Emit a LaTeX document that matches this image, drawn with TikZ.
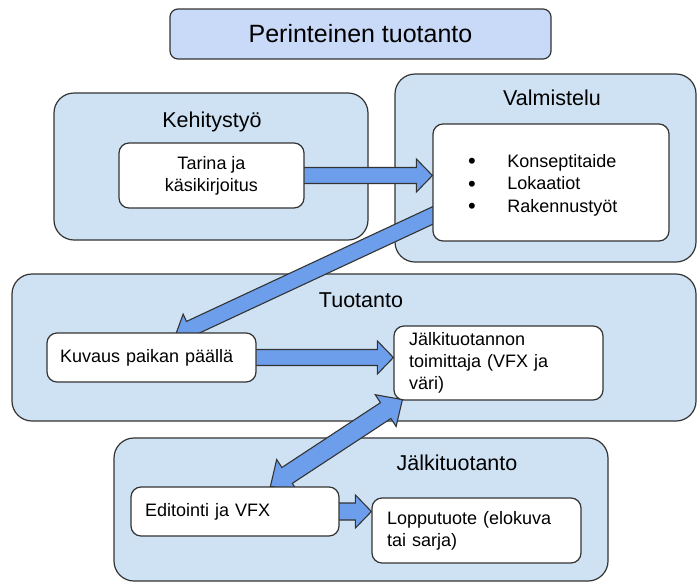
\documentclass[tikz,border=0pt]{standalone}
\usepackage{fontspec}
\setmainfont{Liberation Sans}
\usetikzlibrary{calc}
\definecolor{grpfill}{HTML}{CFE2F3}
\definecolor{titlefill}{HTML}{C9DAF8}
\definecolor{arrfill}{HTML}{6D9EEB}
\definecolor{edgecol}{HTML}{333333}
\pgfdeclarelayer{back}
\pgfdeclarelayer{mid}
\pgfsetlayers{back,mid,main}
\tikzset{
  grp/.style={draw=edgecol, line width=1.2pt, fill=grpfill, rounded corners=20pt, inner sep=0pt},
  titlebox/.style={draw=edgecol, line width=1.2pt, fill=titlefill, rounded corners=8pt, inner sep=0pt,
    font=\fontsize{25}{30}\selectfont},
  box/.style={draw=edgecol, line width=1.2pt, fill=white, rounded corners=10pt, inner ysep=2pt,
    font=\fontsize{18}{22}\selectfont},
  hdr/.style={inner sep=0pt, font=\fontsize{21.5}{26}\selectfont},
  arrowshape/.style={draw=edgecol, line width=1.1pt, fill=arrfill, line join=miter},
}
\newcommand\bigbul{\raisebox{-1.5pt}[0pt][0pt]{\fontsize{22}{22}\selectfont •}}
% single block arrow: start, tip, half shaft, half head, head length
\newcommand\fatarrow[5]{%
  \coordinate (fa-h) at ($(#2)!#5!(#1)$);
  \draw[arrowshape] ($(#1)!#3!90:(#2)$) -- ($(fa-h)!#3!90:(#2)$) -- ($(fa-h)!#4!90:(#2)$)
    -- (#2) -- ($(fa-h)!#4!-90:(#2)$) -- ($(fa-h)!#3!-90:(#2)$) -- ($(#1)!#3!-90:(#2)$) -- cycle;}
% double block arrow: end one, end two, half shaft, half head, head length
\newcommand\fatdarrow[5]{%
  \coordinate (fd-h1) at ($(#2)!#5!(#1)$);
  \coordinate (fd-h2) at ($(#1)!#5!(#2)$);
  \draw[arrowshape] (#1) -- ($(fd-h2)!#4!90:(#2)$) -- ($(fd-h2)!#3!90:(#2)$) -- ($(fd-h1)!#3!90:(#2)$)
    -- ($(fd-h1)!#4!90:(#2)$) -- (#2) -- ($(fd-h1)!#4!-90:(#2)$) -- ($(fd-h1)!#3!-90:(#2)$)
    -- ($(fd-h2)!#3!-90:(#2)$) -- ($(fd-h2)!#4!-90:(#2)$) -- cycle;}
\begin{document}
\begin{tikzpicture}[x=1pt, y=-1pt]
\useasboundingbox (0,0) rectangle (697,582);

% groups
\begin{pgfonlayer}{back}
\node[grp, minimum width=314pt, minimum height=147pt] (kehg) at (211,166.5) {};
\node[grp, minimum width=301pt, minimum height=188pt] (valmg) at (545.5,168) {};
\node[grp, minimum width=684pt, minimum height=147pt] (tuog) at (354,347.5) {};
\node[grp, minimum width=494pt, minimum height=143pt] (jalg) at (361,509.5) {};
\end{pgfonlayer}

% title
\node[titlebox, minimum width=381pt, minimum height=50pt] (title) at (360.5,34) {Perinteinen tuotanto};

% headers
\node[hdr, anchor=base] (kehlbl) at (212,127) {Kehitystyö};
\node[hdr, anchor=base] (valmlbl) at (552,105) {Valmistelu};
\node[hdr, anchor=base] (tuolbl) at (361,307) {Tuotanto};
\node[hdr, anchor=base] (jallbl) at (457,470) {Jälkituotanto};

% inner boxes
\node[box, minimum width=185pt, minimum height=65pt, align=center] (tarina) at (211.5,175.5)
  {Tarina ja\\käsikirjoitus};
\node[box, minimum width=236pt, minimum height=117pt] (valm) at (551,182.5) {};
\node[inner sep=0pt, anchor=base west, font=\fontsize{18}{22.5}\selectfont] (valmlist) at (468,167)
  {\begin{tabular}[t]{@{}l@{\hspace{31.5pt}}l@{}}\bigbul&Konseptitaide\\ \bigbul&Lokaatiot\\ \bigbul&Rakennustyöt\end{tabular}};
\node[box, minimum width=209pt, minimum height=49pt, text width=183pt, inner xsep=13pt, align=left]
  (kuvaus) at (151.5,357.5) {\mbox{Kuvaus paikan päällä}};
\node[box, minimum width=209pt, minimum height=74pt, text width=179pt, inner xsep=15pt, align=left]
  (jtoim) at (498.5,363) {Jälkituotannon\\toimittaja (VFX ja\\väri)};
\node[box, minimum width=208pt, minimum height=49pt, text width=180pt, inner xsep=14pt, align=left]
  (edit) at (235,511.5) {\mbox{Editointi ja VFX}};
\node[box, minimum width=209pt, minimum height=65pt, text width=179pt, inner xsep=15pt, align=left]
  (lopp) at (476.5,530.5) {Lopputuote (elokuva\\tai sarja)};

% connector end points
\coordinate (a1) at ($(tarina.east)+(-2,0)$);
\coordinate (b1) at (a1 -| valm.west);
\coordinate (a2o) at ($(valm.south west)+(0,-26)$);
\coordinate (b2) at ($(kuvaus.north west)+(129,3)$);
\coordinate (a2) at ($(b2)!1.08!(a2o)$);
\coordinate (a3) at ($(kuvaus.east)+(-2,0)$);
\coordinate (b3) at (a3 -| jtoim.west);
\coordinate (a4) at ($(jtoim.south west)+(9,-1)$);
\coordinate (b4) at ($(edit.north west)+(140,0)$);
\coordinate (a5) at ($(edit.east)+(-2,0)$);
\coordinate (b5) at (a5 -| lopp.west);

\begin{pgfonlayer}{mid}
\fatarrow{a1}{b1}{8pt}{16.5pt}{16pt}
\fatarrow{a2}{b2}{8pt}{16pt}{16pt}
\fatarrow{a3}{b3}{8pt}{16.5pt}{16pt}
\fatdarrow{a4}{b4}{9.5pt}{19pt}{20pt}
\fatarrow{a5}{b5}{8.5pt}{16.5pt}{16pt}
\end{pgfonlayer}
\end{tikzpicture}
\end{document}
